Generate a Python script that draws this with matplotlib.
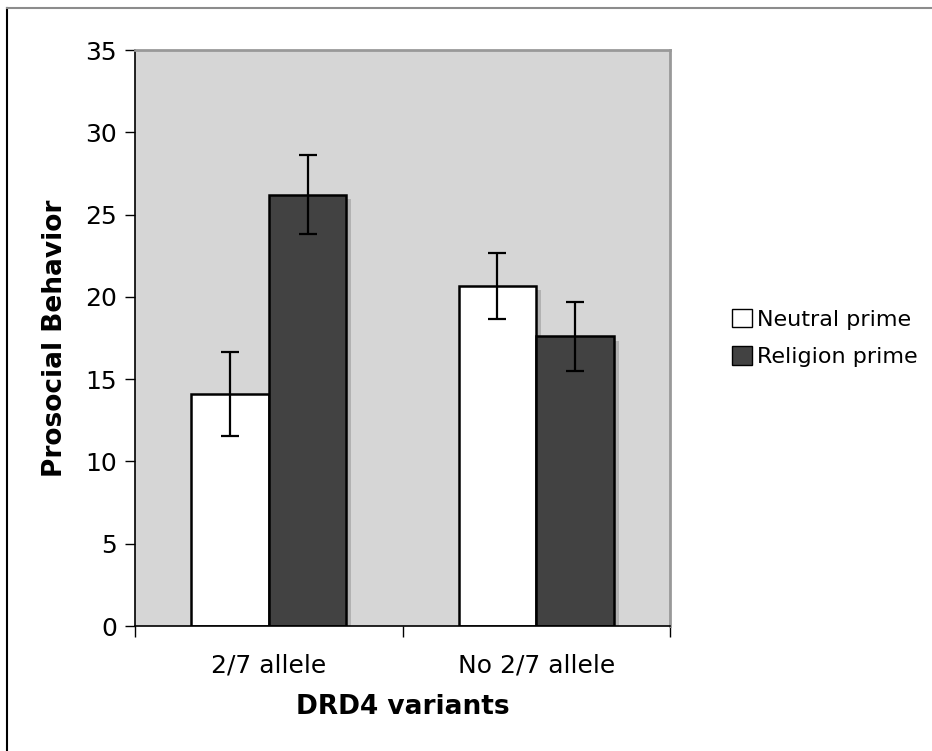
import matplotlib.pyplot as plt
import matplotlib.patheffects as pe
from matplotlib.lines import Line2D
from matplotlib.patches import Patch
import numpy as np

groups = ['2/7 allele', 'No 2/7 allele']
series = ['Neutral prime', 'Religion prime']
neutral = [14.1, 20.65]
religion = [26.2, 17.6]
neutral_err = [2.55, 2.0]
religion_err = [2.4, 2.1]
yticks = [0, 5, 10, 15, 20, 25, 30, 35]

fig = plt.figure(figsize=(9.32, 7.51), dpi=100)
ax = fig.add_axes([0.1449, 0.1664, 0.574, 0.767])
ax.set_facecolor('#d6d6d6')

x = np.arange(len(groups))
w = 0.29
shadow = [pe.SimplePatchShadow(offset=(3.5, -3), shadow_rgbFace='#b2b2b2', alpha=1.0), pe.Normal()]
err_kw = dict(ecolor='black', elinewidth=1.6, capsize=6.5, capthick=1.6)

ax.bar(x - w / 2, neutral, w, color='white', edgecolor='black', linewidth=1.8,
       yerr=neutral_err, error_kw=err_kw, path_effects=shadow, zorder=2)
ax.bar(x + w / 2, religion, w, color='#424242', edgecolor='black', linewidth=1.8,
       yerr=religion_err, error_kw=err_kw, path_effects=shadow, zorder=2)

ax.set_xlim(-0.5, 1.5)
ax.set_ylim(0, 35)
ax.set_yticks(yticks)
ax.set_xticks(x)
ax.set_xticklabels(groups)
ax.set_xticks([-0.5, 0.5, 1.5], minor=True)
ax.tick_params(axis='x', which='major', length=0, pad=20, labelsize=18)
ax.tick_params(axis='x', which='minor', length=8, width=1, color='black', direction='out')
ax.tick_params(axis='y', length=7, width=1, color='black', labelsize=18, pad=6)

for side in ['top', 'right']:
    ax.spines[side].set_color('#999999')
    ax.spines[side].set_linewidth(2)
for side in ['left', 'bottom']:
    ax.spines[side].set_color('black')
    ax.spines[side].set_linewidth(1.2)

ax.set_ylabel('Prosocial Behavior', fontsize=19, fontweight='bold', labelpad=12)
ax.set_xlabel('DRD4 variants', fontsize=19, fontweight='bold', labelpad=12)

handles = [Patch(facecolor='white', edgecolor='black', linewidth=1),
           Patch(facecolor='#424242', edgecolor='black', linewidth=1)]
ax.legend(handles, series, loc='center left', bbox_to_anchor=(1.115, 0.5), frameon=False,
          fontsize=16, handlelength=0.9, handleheight=0.9, handletextpad=0.25,
          labelspacing=0.75, borderaxespad=0, borderpad=0)

# chart-area border (left and top only)
fig.add_artist(Line2D([7 / 932, 7 / 932], [0, 1 - 8 / 751], transform=fig.transFigure,
                      color='black', linewidth=1.5))
fig.add_artist(Line2D([7 / 932, 1], [1 - 8 / 751, 1 - 8 / 751], transform=fig.transFigure,
                      color='#8c8c8c', linewidth=1.5))

fig.savefig('out.png', dpi=100)
